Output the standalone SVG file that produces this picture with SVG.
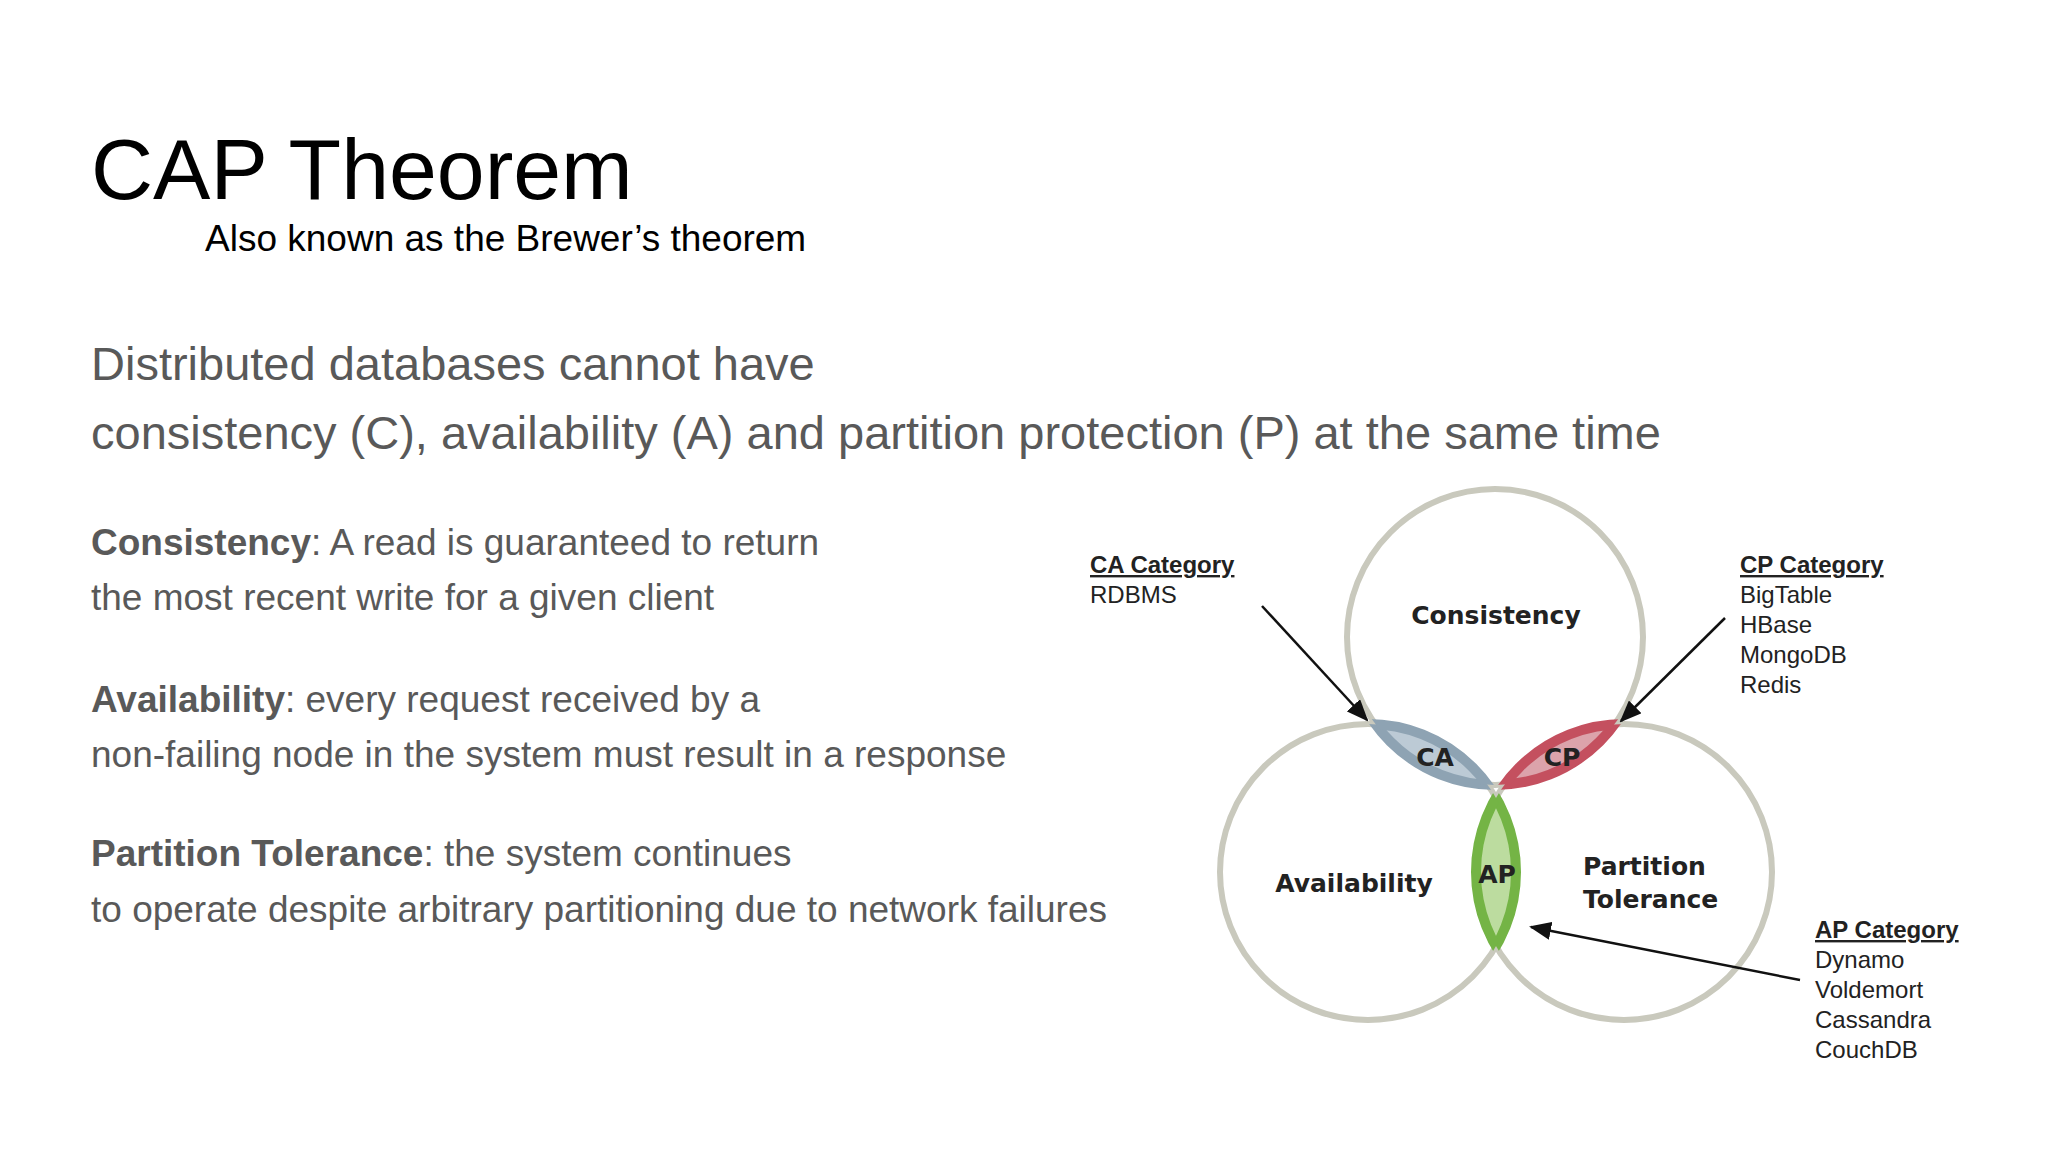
<svg xmlns="http://www.w3.org/2000/svg" width="2048" height="1152" viewBox="0 0 2048 1152">
<style>
.t{font-family:"Liberation Sans",Arial,sans-serif}
.g{fill:#595959;font-size:37px}
.v{font-family:"DejaVu Sans",Verdana,sans-serif;font-weight:bold;font-size:25px;fill:#222}
.c{font-family:"Liberation Sans",Arial,sans-serif;font-size:24px;fill:#222}
.ring{fill:none;stroke:#c9c9bd;stroke-width:6}
.arr{stroke:#111;stroke-width:2.5;fill:none;marker-end:url(#ah)}
</style>
<defs>
<marker id="ah" markerWidth="10" markerHeight="10" refX="9" refY="5" orient="auto" markerUnits="userSpaceOnUse" viewBox="0 0 10 10"><path d="M0,0 L10,5 L0,10 z" fill="#111"/></marker>
<marker id="ah2" markerWidth="22" markerHeight="18" refX="20" refY="9" orient="auto" markerUnits="userSpaceOnUse"><path d="M0,0 L22,9 L0,18 z" fill="#111"/></marker>
<clipPath id="cT"><circle cx="1495" cy="637" r="148"/></clipPath>
<clipPath id="cL"><circle cx="1368" cy="872" r="148"/></clipPath>
<clipPath id="cR"><circle cx="1624" cy="872" r="148"/></clipPath>
</defs>
<rect width="2048" height="1152" fill="#fff"/>
<g id="title">
<text class="t" x="91" y="199" font-size="86" fill="#000">CAP Theorem</text>
<text class="t" x="205" y="251" font-size="37" fill="#000">Also known as the Brewer’s theorem</text>
</g>
<g id="intro">
<text class="t g" x="91" y="380" font-size="47" style="font-size:47px">Distributed databases cannot have</text>
<text class="t g" x="91" y="449" style="font-size:47px">consistency (C), availability (A) and partition protection (P)  at the same time</text>
</g>
<g id="defs-text">
<text class="t g" x="91" y="555"><tspan font-weight="bold">Consistency</tspan>: A read is guaranteed to return</text>
<text class="t g" x="91" y="610">the most recent write for a given client</text>
<text class="t g" x="91" y="712"><tspan font-weight="bold">Availability</tspan>: every request received by a</text>
<text class="t g" x="91" y="767">non-failing node in the system must result in a response</text>
<text class="t g" x="91" y="866"><tspan font-weight="bold">Partition Tolerance</tspan>: the system continues</text>
<text class="t g" x="91" y="922">to operate despite arbitrary partitioning due to network failures</text>
</g>
<g id="circles">
<circle class="ring" cx="1495" cy="637" r="148"/>
<circle class="ring" cx="1368" cy="872" r="148"/>
<circle class="ring" cx="1624" cy="872" r="148"/>
</g>
<g id="CA">
<g clip-path="url(#cL)"><circle cx="1495" cy="637" r="148" fill="#bccad5" stroke="#8ea3b3" stroke-width="10"/></g>
<g clip-path="url(#cT)"><circle cx="1368" cy="872" r="148" fill="none" stroke="#8ea3b3" stroke-width="10"/></g>
<text class="v" x="1435" y="766" text-anchor="middle">CA</text>
</g>
<g id="CP">
<g clip-path="url(#cR)"><circle cx="1495" cy="637" r="148" fill="#dca3ab" stroke="#c4505f" stroke-width="10"/></g>
<g clip-path="url(#cT)"><circle cx="1624" cy="872" r="148" fill="none" stroke="#c4505f" stroke-width="10"/></g>
<text class="v" x="1562" y="766" text-anchor="middle">CP</text>
</g>
<g id="AP">
<g clip-path="url(#cR)"><circle cx="1368" cy="872" r="148" fill="#bcdc9f" stroke="#74b445" stroke-width="10"/></g>
<g clip-path="url(#cL)"><circle cx="1624" cy="872" r="148" fill="none" stroke="#74b445" stroke-width="10"/></g>
<text class="v" x="1497" y="883" text-anchor="middle">AP</text>
</g>
<g id="labels">
<text class="v" x="1496" y="624" text-anchor="middle">Consistency</text>
<text class="v" x="1354" y="892" text-anchor="middle">Availability</text>
<text class="v" x="1583" y="875">Partition</text>
<text class="v" x="1583" y="908">Tolerance</text>
</g>
<g id="ca-cat">
<text class="c" x="1090" y="573" font-weight="bold" text-decoration="underline">CA Category</text>
<text class="c" x="1090" y="603">RDBMS</text>
</g>
<g id="cp-cat">
<text class="c" x="1740" y="573" font-weight="bold" text-decoration="underline">CP Category</text>
<text class="c" x="1740" y="603">BigTable</text>
<text class="c" x="1740" y="633">HBase</text>
<text class="c" x="1740" y="663">MongoDB</text>
<text class="c" x="1740" y="693">Redis</text>
</g>
<g id="ap-cat">
<text class="c" x="1815" y="938" font-weight="bold" text-decoration="underline">AP Category</text>
<text class="c" x="1815" y="968">Dynamo</text>
<text class="c" x="1815" y="998">Voldemort</text>
<text class="c" x="1815" y="1028">Cassandra</text>
<text class="c" x="1815" y="1058">CouchDB</text>
</g>
<g id="connectors">
<line x1="1262" y1="606" x2="1367" y2="720" stroke="#111" stroke-width="2.5" marker-end="url(#ah2)"/>
<line x1="1725" y1="618" x2="1621" y2="721" stroke="#111" stroke-width="2.5" marker-end="url(#ah2)"/>
<line x1="1800" y1="980" x2="1531" y2="927" stroke="#111" stroke-width="2.5" marker-end="url(#ah2)"/>
</g>
</svg>
